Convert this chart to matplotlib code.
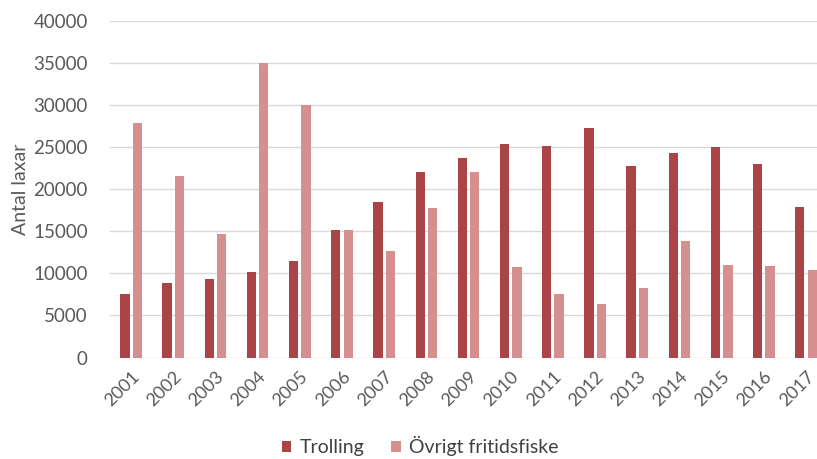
import matplotlib.pyplot as plt
import numpy as np

years = ['2001', '2002', '2003', '2004', '2005', '2006', '2007', '2008', '2009',
         '2010', '2011', '2012', '2013', '2014', '2015', '2016', '2017']
trolling = [7500, 8800, 9300, 10100, 11500, 15200, 18500, 22000, 23700,
            25400, 25100, 27200, 22700, 24300, 25000, 23000, 17900]
ovrigt = [27800, 21500, 14700, 35000, 30000, 15100, 12700, 17700, 22000,
          10700, 7500, 6300, 8200, 13800, 11000, 10900, 10400]

plt.rcParams['font.family'] = ['Lato', 'DejaVu Sans']
grey = '#595959'

fig = plt.figure(figsize=(8.17, 4.59), dpi=100)
ax = fig.add_axes([0.1346, 0.2211, 1 - 0.1346, 0.9549 - 0.2211])

x = np.arange(len(years))
w = 0.22
ax.bar(x - 0.147, trolling, w, color='#AB4446', label='Trolling', zorder=3)
ax.bar(x + 0.147, ovrigt, w, color='#D68F8F', label='Övrigt fritidsfiske', zorder=3)

ax.set_ylim(0, 40000)
ax.set_yticks(np.arange(0, 40001, 5000))
ax.set_xlim(-0.5, 16.26)
ax.set_xticks(x)
ax.set_xticklabels(years, rotation=45, ha='right', rotation_mode='anchor')
ax.tick_params(axis='x', length=0, labelsize=13, colors=grey, pad=8)
ax.tick_params(axis='y', length=0, labelsize=13.5, colors=grey, pad=16)
ax.grid(axis='y', color='#D9D9D9', linewidth=1, zorder=0)
for s in ax.spines.values():
    s.set_visible(False)
ax.set_ylabel('Antal laxar', fontsize=14, color=grey, labelpad=3)

ax.legend(loc='center', bbox_to_anchor=(420 / 817, 1 - 446 / 459),
          bbox_transform=fig.transFigure, ncol=2, frameon=False,
          fontsize=14, handlelength=0.5, handleheight=0.5,
          handletextpad=0.4, columnspacing=1.4, labelcolor='#404040')

fig.savefig('out.png')
plt.close(fig)
